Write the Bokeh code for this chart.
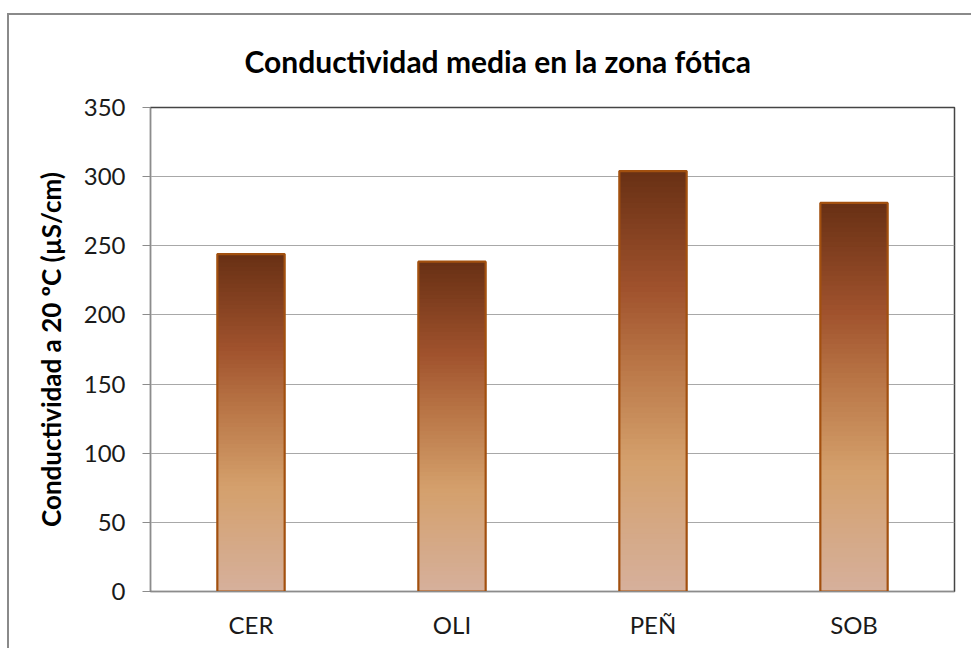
import numpy as np
from bokeh.plotting import figure
from bokeh.models import Range1d, FactorRange, FixedTicker, ColumnDataSource
from bokeh.embed import file_html
from bokeh.resources import INLINE

categories = ["CER", "OLI", "PEÑ", "SOB"]
values = [244, 238.5, 304, 281]
y_ticks = [0, 50, 100, 150, 200, 250, 300, 350]
title_text = "Conductividad media en la zona fótica"
y_label = "Conductividad a 20 ºC (µS/cm)"

FONT = "Lato"

p = figure(width=971, height=648, x_range=FactorRange(*categories, range_padding=0),
           y_range=Range1d(0, 350), output_backend="svg", toolbar_location=None,
           min_border_left=150, min_border_right=17, min_border_top=107, min_border_bottom=57)
p.background_fill_color = "white"
p.border_fill_alpha = 0
p.outline_line_color = "#444444"
p.outline_line_width = 1.5
p.styles = {
    "background-color": "white",
    "background-image": "linear-gradient(#8a8a8a, #8a8a8a), linear-gradient(#8a8a8a, #8a8a8a)",
    "background-position": "7px 13px, 7px 13px",
    "background-size": "2px 100%, 100% 2px",
    "background-repeat": "no-repeat, no-repeat",
}

# gradient stops (top -> bottom)
stop_t = np.array([0.0, 0.28, 0.45, 0.69, 1.0])
stop_rgb = np.array([[0x68, 0x30, 0x14], [0xA0, 0x52, 0x2D], [0xB8, 0x74, 0x45],
                     [0xD4, 0xA0, 0x6C], [0xD6, 0xB0, 0x9C]], dtype=float)

N = 80
xs, bots, tops, cols = [], [], [], []
for c, v in zip(categories, values):
    for i in range(N):
        b = v * i / N
        t = min(v, v * (i + 1.6) / N)
        frac_from_top = 1 - (i + 0.5) / N
        rgb = [np.interp(frac_from_top, stop_t, stop_rgb[:, k]) for k in range(3)]
        xs.append(c)
        bots.append(b)
        tops.append(t)
        cols.append("#%02x%02x%02x" % tuple(int(round(q)) for q in rgb))

src = ColumnDataSource(dict(x=xs, bottom=bots, top=tops, color=cols))
p.vbar(x="x", bottom="bottom", top="top", width=0.335, source=src,
       fill_color="color", line_color=None)
p.vbar(x=categories, top=values, bottom=0, width=0.335, fill_color=None,
       line_color="#A2500F", line_width=2.2)

p.ygrid.grid_line_color = "#A8A8A8"
p.ygrid.grid_line_width = 1
p.xgrid.grid_line_color = None

p.yaxis.ticker = FixedTicker(ticks=y_ticks)
p.yaxis.axis_line_color = "#8C8C8C"
p.yaxis.major_tick_line_color = "#8C8C8C"
p.yaxis.major_tick_out = 8
p.yaxis.major_tick_in = 0
p.yaxis.minor_tick_line_color = None
p.yaxis.major_label_standoff = 17
p.yaxis.major_label_text_font = FONT
p.yaxis.major_label_text_font_size = "24px"
p.yaxis.major_label_text_color = "#1a1a1a"
p.yaxis.axis_label = y_label
p.yaxis.axis_label_text_font = FONT
p.yaxis.axis_label_text_font_style = "bold"
p.yaxis.axis_label_text_font_size = "26px"
p.yaxis.axis_label_text_color = "black"
p.yaxis.axis_label_standoff = 14

p.xaxis.axis_line_color = "#8C8C8C"
p.xaxis.major_tick_line_color = None
p.xaxis.minor_tick_line_color = None
p.xaxis.major_label_standoff = 12
p.xaxis.major_label_text_font = FONT
p.xaxis.major_label_text_font_size = "24px"
p.xaxis.major_label_text_color = "#1a1a1a"

p.title.text = title_text
p.title.text_font = FONT
p.title.text_font_style = "bold"
p.title.text_font_size = "30px"
p.title.text_color = "black"
p.title.align = "left"
p.title.offset = 94
p.title.standoff = 58

open("out.html", "w").write(file_html(p, INLINE))
